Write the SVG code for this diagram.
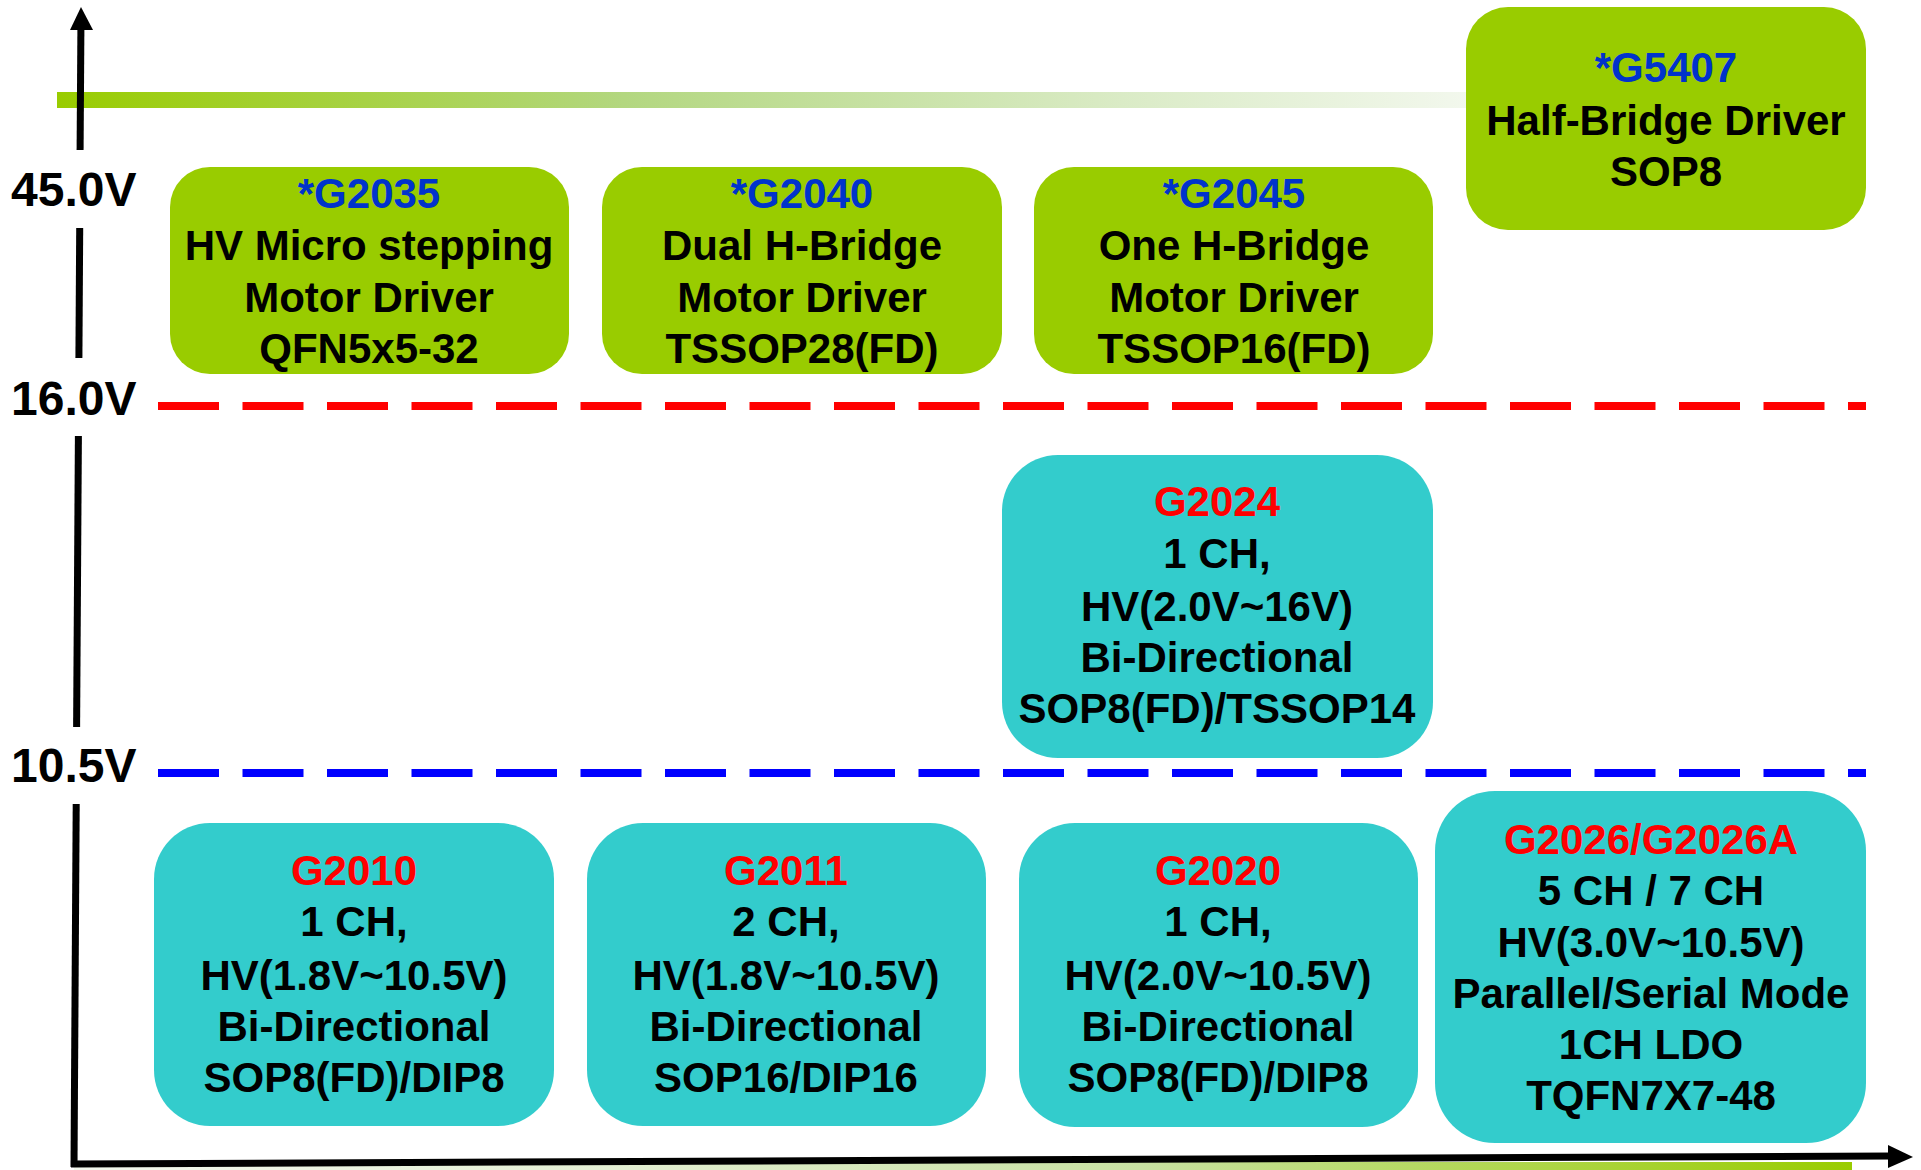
<svg xmlns="http://www.w3.org/2000/svg" width="1921" height="1170" viewBox="0 0 1921 1170">
<style>
text{font-family:"Liberation Sans",Arial,sans-serif;font-weight:bold;font-size:42px;text-anchor:middle;fill:#000}
.lbl{font-size:48px;text-anchor:start}
.blue{fill:#0033CC}
.red{fill:#FF0000}
.g{fill:#99CC00}
.t{fill:#33CCCC}
.ax{stroke:#000;stroke-width:7;fill:none}
.dash{stroke-width:8;stroke-dasharray:61 23.5;fill:none}
</style>
<defs>
<linearGradient id="topbar" x1="0" y1="0" x2="1" y2="0">
<stop offset="0" stop-color="#99CC00"/>
<stop offset="0.4" stop-color="#B3D780"/>
<stop offset="0.75" stop-color="#DAEBC6"/>
<stop offset="1" stop-color="#F3F8EE"/>
</linearGradient>
<linearGradient id="botbar" x1="0" y1="0" x2="1" y2="0">
<stop offset="0" stop-color="#F3F8EE"/>
<stop offset="0.3" stop-color="#E3EFD3"/>
<stop offset="0.6" stop-color="#C8E1A2"/>
<stop offset="1" stop-color="#99CC00"/>
</linearGradient>
</defs>
<rect width="1921" height="1170" fill="#fff"/>
<g id="bars">
<rect x="57" y="92" width="1420" height="16" fill="url(#topbar)"/>
<rect x="74" y="1162" width="1778" height="8" fill="url(#botbar)"/>
</g>
<g id="connectors">
<line class="dash" x1="158" y1="406" x2="1866" y2="406" stroke="#FF0000"/>
<line class="dash" x1="158" y1="773" x2="1866" y2="773" stroke="#0000FF"/>
<line class="ax" x1="80.9" y1="28" x2="80.1" y2="150"/>
<line class="ax" x1="79.7" y1="228" x2="78.9" y2="358"/>
<line class="ax" x1="78.4" y1="436" x2="76.6" y2="727"/>
<line class="ax" x1="76.2" y1="804" x2="74" y2="1167"/>
<polygon points="81,7 70,30 93,30" fill="#000"/>
<line class="ax" x1="71" y1="1164" x2="1892" y2="1156"/>
<polygon points="1913,1157 1888,1145 1888,1168" fill="#000"/>
</g>
<g id="axis-labels">
<text class="lbl" x="11" y="206">45.0V</text>
<text class="lbl" x="11" y="415">16.0V</text>
<text class="lbl" x="11" y="782">10.5V</text>
</g>
<g id="G2035">
<rect class="g" x="170" y="167" width="399" height="207" rx="40"/>
<text x="369" y="208"><tspan class="blue">*G2035</tspan></text>
<text x="369" y="260">HV Micro stepping</text>
<text x="369" y="312">Motor Driver</text>
<text x="369" y="363">QFN5x5-32</text>
</g>
<g id="G2040">
<rect class="g" x="602" y="167" width="400" height="207" rx="40"/>
<text x="802" y="208"><tspan class="blue">*G2040</tspan></text>
<text x="802" y="260">Dual H-Bridge</text>
<text x="802" y="312">Motor Driver</text>
<text x="802" y="363">TSSOP28(FD)</text>
</g>
<g id="G2045">
<rect class="g" x="1034" y="167" width="399" height="207" rx="40"/>
<text x="1234" y="208"><tspan class="blue">*G2045</tspan></text>
<text x="1234" y="260">One H-Bridge</text>
<text x="1234" y="312">Motor Driver</text>
<text x="1234" y="363">TSSOP16(FD)</text>
</g>
<g id="G5407">
<rect class="g" x="1466" y="7" width="400" height="223" rx="42"/>
<text x="1666" y="82"><tspan class="blue">*G5407</tspan></text>
<text x="1666" y="135">Half-Bridge Driver</text>
<text x="1666" y="186">SOP8</text>
</g>
<g id="G2024">
<rect class="t" x="1002" y="455" width="431" height="303" rx="56"/>
<text x="1217" y="516"><tspan class="red">G2024</tspan></text>
<text x="1217" y="568">1 CH,</text>
<text x="1217" y="621">HV(2.0V~16V)</text>
<text x="1217" y="672">Bi-Directional</text>
<text x="1217" y="723">SOP8(FD)/TSSOP14</text>
</g>
<g id="G2010">
<rect class="t" x="154" y="823" width="400" height="303" rx="56"/>
<text x="354" y="885"><tspan class="red">G2010</tspan></text>
<text x="354" y="936">1 CH,</text>
<text x="354" y="990">HV(1.8V~10.5V)</text>
<text x="354" y="1041">Bi-Directional</text>
<text x="354" y="1092">SOP8(FD)/DIP8</text>
</g>
<g id="G2011">
<rect class="t" x="587" y="823" width="399" height="303" rx="56"/>
<text x="786" y="885"><tspan class="red">G2011</tspan></text>
<text x="786" y="936">2 CH,</text>
<text x="786" y="990">HV(1.8V~10.5V)</text>
<text x="786" y="1041">Bi-Directional</text>
<text x="786" y="1092">SOP16/DIP16</text>
</g>
<g id="G2020">
<rect class="t" x="1019" y="823" width="399" height="304" rx="56"/>
<text x="1218" y="885"><tspan class="red">G2020</tspan></text>
<text x="1218" y="936">1 CH,</text>
<text x="1218" y="990">HV(2.0V~10.5V)</text>
<text x="1218" y="1041">Bi-Directional</text>
<text x="1218" y="1092">SOP8(FD)/DIP8</text>
</g>
<g id="G2026">
<rect class="t" x="1435" y="791" width="431" height="352" rx="60"/>
<text x="1651" y="854"><tspan class="red">G2026/G2026A</tspan></text>
<text x="1651" y="905">5 CH / 7 CH</text>
<text x="1651" y="957">HV(3.0V~10.5V)</text>
<text x="1651" y="1008">Parallel/Serial Mode</text>
<text x="1651" y="1059">1CH LDO</text>
<text x="1651" y="1110">TQFN7X7-48</text>
</g>
</svg>
